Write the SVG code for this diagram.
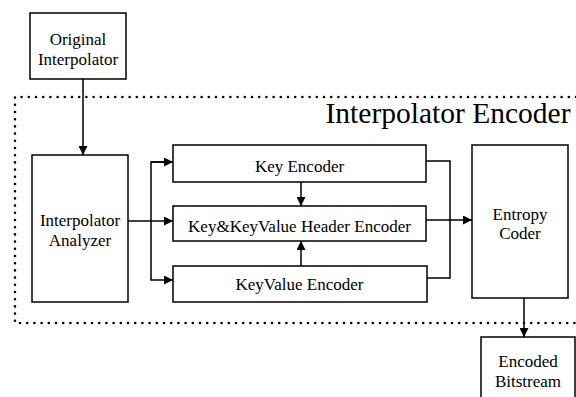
<svg xmlns="http://www.w3.org/2000/svg" width="576" height="397" viewBox="0 0 576 397">
<style>
.box{fill:#fff;stroke:#000;stroke-width:1.5}
.t{font-family:"Liberation Serif","Times New Roman",serif;font-size:17px;fill:#000;text-anchor:middle}
.title{font-family:"Liberation Serif","Times New Roman",serif;font-size:29.5px;fill:#000;text-anchor:middle}
.ln{fill:none;stroke:#000;stroke-width:1.5}
.dot{fill:none;stroke:#000;stroke-width:2.6;stroke-linecap:round;stroke-dasharray:0 7.2}
</style>
<defs>
<marker id="ah" viewBox="0 0 10 10" refX="10" refY="5" markerWidth="9" markerHeight="9" markerUnits="userSpaceOnUse" orient="auto">
<path d="M0,0 L10,5 L0,10 Z" fill="#000"/>
</marker>
</defs>
<rect width="576" height="397" fill="#fff"/>
<g id="encoder-boundary">
<path class="dot" d="M576,97 H15 V323 H576"/>
<text class="title" x="448" y="123">Interpolator Encoder</text>
</g>
<g id="connectors">
<path class="ln" d="M83,79 V155" marker-end="url(#ah)"/>
<path class="ln" d="M128,221 H173" marker-end="url(#ah)"/>
<path class="ln" d="M173,162 H151 V280 H173" marker-end="url(#ah)"/>
<path class="ln" d="M151,162 H173" marker-end="url(#ah)"/>
<path class="ln" d="M301,182 V206" marker-end="url(#ah)"/>
<path class="ln" d="M301,266 V241" marker-end="url(#ah)"/>
<path class="ln" d="M426,161 H450 V278 H427"/>
<path class="ln" d="M426,220 H472" marker-end="url(#ah)"/>
<path class="ln" d="M524,298 V337" marker-end="url(#ah)"/>
</g>
<g id="original-interpolator">
<rect class="box" x="30" y="13" width="96" height="66"/>
<text class="t" x="78" y="45">Original</text>
<text class="t" x="78" y="65">Interpolator</text>
</g>
<g id="interpolator-analyzer">
<rect class="box" x="32" y="155" width="96" height="147"/>
<text class="t" x="80" y="226">Interpolator</text>
<text class="t" x="80" y="246">Analyzer</text>
</g>
<g id="key-encoder">
<rect class="box" x="173" y="145" width="253" height="37"/>
<text class="t" x="299.5" y="172">Key Encoder</text>
</g>
<g id="header-encoder">
<rect class="box" x="173" y="206" width="253" height="35"/>
<text class="t" x="299.5" y="232">Key&amp;KeyValue Header Encoder</text>
</g>
<g id="keyvalue-encoder">
<rect class="box" x="173" y="266" width="254" height="36"/>
<text class="t" x="299.5" y="290">KeyValue Encoder</text>
</g>
<g id="entropy-coder">
<rect class="box" x="472" y="145" width="96" height="153"/>
<text class="t" x="520" y="220">Entropy</text>
<text class="t" x="520" y="239">Coder</text>
</g>
<g id="encoded-bitstream">
<rect class="box" x="481" y="337" width="94" height="70"/>
<text class="t" x="528" y="367">Encoded</text>
<text class="t" x="528" y="387">Bitstream</text>
</g>
</svg>
